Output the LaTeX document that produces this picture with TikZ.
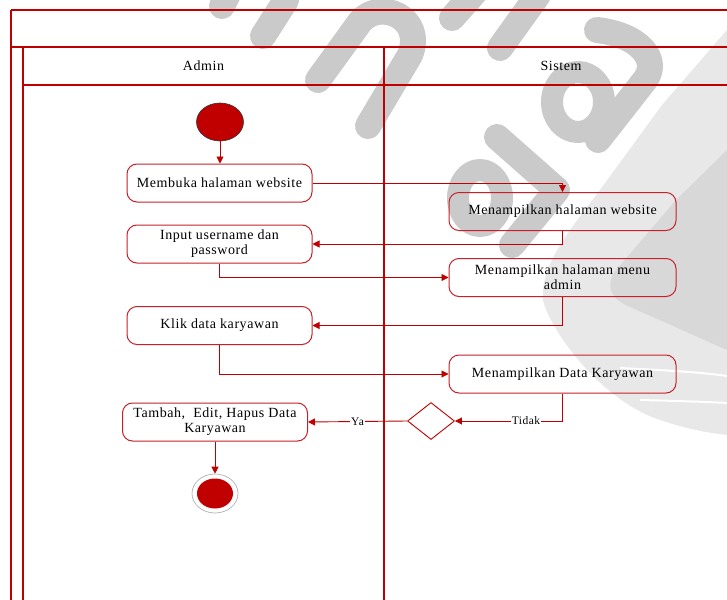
\documentclass[tikz,border=0pt]{standalone}
\usepackage{fontspec}
\setmainfont{Liberation Serif}[LetterSpace=4]
\usetikzlibrary{arrows.meta,shapes.geometric}
\definecolor{umlred}{HTML}{C00000}
\definecolor{boxred}{HTML}{C8202A}
\definecolor{wmdark}{HTML}{CACACA}
\definecolor{wmlight}{HTML}{E8E8E8}
\definecolor{wmmid}{HTML}{D8D8D8}
\begin{document}
\begin{tikzpicture}[x=1pt,y=-1pt,
  lane/.style={draw=umlred,line width=1.6pt},
  lanetitle/.style={font=\fontsize{14}{16}\selectfont,text=black},
  act/.style={draw=boxred,line width=1pt,rounded corners=10pt,minimum width=185pt,
    minimum height=38pt,align=center,inner sep=2pt,font=\fontsize{14}{15}\selectfont,text=black},
  flow/.style={draw=umlred,line width=0.9pt,-{Triangle[length=7pt,width=7pt]}},
  guard/.style={fill=white,inner sep=1pt,font=\fontsize{11.5}{12}\selectfont,text=black},
  wm/.style={draw=wmdark,line width=26pt,line cap=round,line join=round}]

\useasboundingbox (0,0) rectangle (727,599);
\clip (0,0) rectangle (727,599);
\fill[white] (0,0) rectangle (727,599);

% background logo watermark
\fill[wmlight] (727,30) -- (662,105) -- (600,190) .. controls (570,230) and (540,265) .. (543,300)
  .. controls (550,330) and (600,400) .. (660,420) .. controls (690,430) and (710,433) .. (727,435) -- cycle;
\fill[wmmid] (727,150) -- (676,200) -- (616,270) .. controls (605,285) and (610,298) .. (628,306) -- (727,350) -- cycle;
\draw[white,line width=2pt] (620,368) .. controls (660,370) and (700,372) .. (727,376);
\draw[white,line width=2pt] (640,400) .. controls (680,401) and (710,402) .. (727,403);
\draw[wm] (222,6) -- (230,-10);
\draw[wm] (263,36) -- (286,0);
\draw[wm] (318,80) -- (360,22) .. controls (380,-2) and (425,18) .. (410,55) -- (368,126);
\draw[wm] (452,18) -- (475,-8);
\draw[wm] (500,48) -- (538,-5);
\draw[wm] (597,30) .. controls (640,35) and (660,60) .. (645,80) -- (598,140);
\draw[wm,line width=22pt] (578,102) ellipse (26 and 30);
\draw[wm] (497,137) -- (557,190) -- (512,245);
\draw[wm,line width=22pt] (480,198) ellipse (22 and 28);

% swimlane frame
\draw[lane] (11,10) -- (745,10);
\draw[lane] (11,47) -- (745,47);
\draw[lane] (11,10) -- (11,610);
\draw[lane] (23,47) -- (23,610);
\draw[lane] (23,85) -- (745,85);
\draw[lane] (384,47) -- (384,610);
\node[lanetitle] (laneA) at (203.5,66) {Admin};
\node[lanetitle] (laneS) at (561,66) {Sistem};

% activities
\node[ellipse,fill=umlred,draw=black!80,line width=0.6pt,minimum width=47pt,minimum height=38pt,inner sep=0pt] (start) at (220,122) {};
\node[act] (open) at (219.5,183) {Membuka halaman website};
\node[act] (login) at (219.5,244) {Input username dan\\password};
\node[act] (klik) at (219.5,325.5) {Klik data karyawan};
\node[act] (crud) at (215,422) {Tambah,\ \ Edit, Hapus Data\\Karyawan};
\node[ellipse,draw=gray!70,line width=0.6pt,minimum width=46pt,minimum height=39pt,inner sep=0pt] (end) at (215,493.5) {};
\node[ellipse,fill=umlred,minimum width=36pt,minimum height=30pt,inner sep=0pt] (endcore) at (end.center) {};

\node[act,minimum width=227pt] (web) at (562.5,211.5) {Menampilkan halaman website};
\node[act,minimum width=227pt] (menu) at (562.5,277.5) {Menampilkan halaman menu\\admin};
\node[act,minimum width=227pt] (data) at (562.5,374) {Menampilkan Data Karyawan};
\node[diamond,draw=umlred,line width=0.9pt,minimum width=47pt,minimum height=37pt,inner sep=0pt] (dec) at (431,421) {};

% control flow
\draw[flow] (start.south) -- (start.south |- open.north);
\draw[flow] (open.east) -| (web.north);
\draw[flow] (web.south) |- (login.east);
\draw[flow] (login.south) |- (menu.west);
\draw[flow] (menu.south) |- (klik.east);
\draw[flow] (klik.south) |- (data.west);
\draw[flow] (data.south) |- node[guard,pos=0.67] {Tidak} (dec.east);
\draw[flow] (dec.west) -- node[guard] {Ya} (crud.east);
\draw[flow] (crud.south) -- (end.north);
\end{tikzpicture}
\end{document}
